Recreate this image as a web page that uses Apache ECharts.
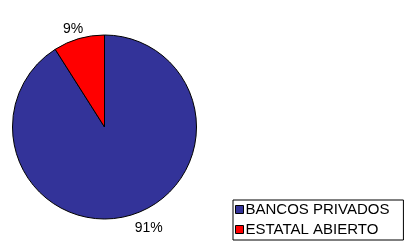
<!DOCTYPE html>
<html>
<head>
<meta charset="utf-8">
<script src="https://cdn.jsdelivr.net/npm/echarts@6/dist/echarts.min.js"></script>
<style>
  html, body { margin: 0; padding: 0; background: #fff; }
  #main { width: 410px; height: 242px; }
</style>
</head>
<body>
<div id="main"></div>
<script>
  // categorias y valores (%)
  var categorias = ['BANCOS PRIVADOS', 'ESTATAL ABIERTO'];
  var valores = [91, 9];
  var colores = ['#333399', '#ff0000'];

  var myChart = echarts.init(document.getElementById('main'));

  var datos = categorias.map(function (c, i) {
    return { name: c, value: valores[i], itemStyle: { color: colores[i] } };
  });

  var option = {
    backgroundColor: '#fff',
    animation: false,
    legend: {
      orient: 'vertical',
      left: 233,
      top: 200,
      data: categorias,
      icon: 'rect',
      itemWidth: 8,
      itemHeight: 8,
      itemGap: 5,
      itemStyle: { borderColor: '#000', borderWidth: 1 },
      padding: [2, 14, 3, 2],
      borderColor: '#000',
      borderWidth: 1,
      textStyle: {
        fontFamily: 'Liberation Sans, Arial, sans-serif',
        fontSize: 15,
        lineHeight: 15,
        color: '#000',
        padding: [0, 0, 0, -3]
      }
    },
    series: [{
      type: 'pie',
      center: [104.5, 127],
      radius: 92,
      startAngle: 90,
      clockwise: true,
      data: datos,
      itemStyle: { borderColor: '#000', borderWidth: 1 },
      label: {
        show: true,
        position: 'outside',
        formatter: '{c}%',
        fontFamily: 'Liberation Sans, Arial, sans-serif',
        fontSize: 14,
        color: '#000'
      },
      labelLine: { show: false, length: 13, length2: 0 },
      // pequeño ajuste de las etiquetas
      labelLayout: function (params) {
        return params.dataIndex === 1 ? { dx: 13, dy: 3 } : { dx: -4, dy: 0 };
      },
      emphasis: { disabled: true }
    }]
  };

  myChart.setOption(option);
</script>
</body>
</html>
